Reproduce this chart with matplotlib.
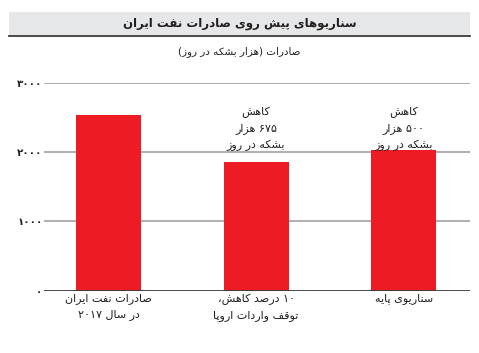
import matplotlib
matplotlib.use('Agg')
import matplotlib.pyplot as plt
from matplotlib.patches import Rectangle
from matplotlib.lines import Line2D

plt.rcParams['font.family'] = ['DejaVu Sans']

# data
categories = ["صادرات نفت ایران\nدر سال ۲۰۱۷", "۱۰ درصد کاهش،\nتوقف واردات اروپا", "سناریوی پایه"]
exports = [2535, 1860, 2035]
notes = ["", "کاهش\n۶۷۵ هزار\nبشکه در روز", "کاهش\n۵۰۰ هزار\nبشکه در روز"]
y_ticks = [0, 1000, 2000, 3000]
title = "سناریوهای پیش روی صادرات نفت ایران"
subtitle = "صادرات (هزار بشکه در روز)"

# presentation forms: (isolated, final) or (isolated, final, initial, medial)
FORMS = {
    'ا': (0xFE8D, 0xFE8E), 'آ': (0xFE81, 0xFE82),
    'د': (0xFEA9, 0xFEAA), 'ذ': (0xFEAB, 0xFEAC), 'ر': (0xFEAD, 0xFEAE),
    'ز': (0xFEAF, 0xFEB0), 'ژ': (0xFB8A, 0xFB8B), 'و': (0xFEED, 0xFEEE),
    'ب': (0xFE8F, 0xFE90, 0xFE91, 0xFE92), 'پ': (0xFB56, 0xFB57, 0xFB58, 0xFB59),
    'ت': (0xFE95, 0xFE96, 0xFE97, 0xFE98), 'ث': (0xFE99, 0xFE9A, 0xFE9B, 0xFE9C),
    'ج': (0xFE9D, 0xFE9E, 0xFE9F, 0xFEA0), 'چ': (0xFB7A, 0xFB7B, 0xFB7C, 0xFB7D),
    'ح': (0xFEA1, 0xFEA2, 0xFEA3, 0xFEA4), 'خ': (0xFEA5, 0xFEA6, 0xFEA7, 0xFEA8),
    'س': (0xFEB1, 0xFEB2, 0xFEB3, 0xFEB4), 'ش': (0xFEB5, 0xFEB6, 0xFEB7, 0xFEB8),
    'ص': (0xFEB9, 0xFEBA, 0xFEBB, 0xFEBC), 'ض': (0xFEBD, 0xFEBE, 0xFEBF, 0xFEC0),
    'ط': (0xFEC1, 0xFEC2, 0xFEC3, 0xFEC4), 'ظ': (0xFEC5, 0xFEC6, 0xFEC7, 0xFEC8),
    'ع': (0xFEC9, 0xFECA, 0xFECB, 0xFECC), 'غ': (0xFECD, 0xFECE, 0xFECF, 0xFED0),
    'ف': (0xFED1, 0xFED2, 0xFED3, 0xFED4), 'ق': (0xFED5, 0xFED6, 0xFED7, 0xFED8),
    'ک': (0xFB8E, 0xFB8F, 0xFB90, 0xFB91), 'گ': (0xFB92, 0xFB93, 0xFB94, 0xFB95),
    'ل': (0xFEDD, 0xFEDE, 0xFEDF, 0xFEE0), 'م': (0xFEE1, 0xFEE2, 0xFEE3, 0xFEE4),
    'ن': (0xFEE5, 0xFEE6, 0xFEE7, 0xFEE8), 'ه': (0xFEE9, 0xFEEA, 0xFEEB, 0xFEEC),
    'ی': (0xFBFC, 0xFBFD, 0xFBFE, 0xFBFF),
}
DIGITS = set('0123456789۰۱۲۳۴۵۶۷۸۹')
MIRROR = {'(': ')', ')': '('}


def shape(line):
    out = []
    n = len(line)
    for i, ch in enumerate(line):
        f = FORMS.get(ch)
        if f is None:
            out.append(ch)
            continue
        prev = line[i - 1] if i > 0 else ''
        nxt = line[i + 1] if i < n - 1 else ''
        join_prev = prev in FORMS and len(FORMS[prev]) == 4
        join_next = len(f) == 4 and nxt in FORMS
        if join_prev and join_next:
            code = f[3]
        elif join_prev:
            code = f[1]
        elif join_next:
            code = f[2]
        else:
            code = f[0]
        out.append(chr(code))
    return ''.join(out)


def rtl(text):
    lines = []
    for line in text.split('\n'):
        s = shape(line)[::-1]
        s = ''.join(MIRROR.get(c, c) for c in s)
        # keep digit runs left to right
        res, run = [], []
        for c in s:
            if c in DIGITS:
                run.append(c)
            else:
                res.extend(run[::-1])
                run = []
                res.append(c)
        res.extend(run[::-1])
        lines.append(''.join(res))
    return '\n'.join(lines)


def fa_num(v):
    return ''.join('۰۱۲۳۴۵۶۷۸۹'[int(d)] for d in str(int(v)))


RED = '#ED1C24'
TXT = '#231F20'

fig = plt.figure(figsize=(4.79, 3.53), dpi=100)
W, H = 479, 353

# title band
fig.patches.append(Rectangle((9 / W, 1 - 35 / H), 461 / W, 23 / H,
                             transform=fig.transFigure, facecolor='#E6E7E8',
                             edgecolor='none', zorder=0))
fig.lines.append(Line2D([9 / W, 470 / W], [1 - 35.5 / H, 1 - 35.5 / H],
                        transform=fig.transFigure, color='#3A3A3A', lw=1.3))
fig.text(0.5, 1 - 24 / H, rtl(title), ha='center', va='center',
         fontsize=8.5, fontweight='bold', color=TXT)
fig.text(0.5, 1 - 52 / H, rtl(subtitle), ha='center', va='center',
         fontsize=7.5, color=TXT)

ax = fig.add_axes([44 / W, 1 - 290.7 / H, 426 / W, 208 / H])
x = list(range(len(categories)))
ax.bar(x, exports, width=0.44, color=RED, zorder=3)
ax.set_xlim(-0.437, 2.45)
ax.set_ylim(0, 3000)

for v in y_ticks[1:]:
    ax.axhline(v, color='#A7A9AC', lw=1.3, zorder=1)
ax.axhline(0, color='#3A3A3A', lw=1.3, zorder=4)

ax.set_yticks(y_ticks)
ax.set_yticklabels([fa_num(v) for v in y_ticks], fontsize=7.5,
                   fontweight='bold', color=TXT)
ax.tick_params(axis='y', length=0, pad=1)
ax.set_xticks(x)
ax.set_xticklabels([rtl(c) for c in categories], fontsize=8, color=TXT,
                   linespacing=1.6)
ax.tick_params(axis='x', length=0, pad=2)
for s in ax.spines.values():
    s.set_visible(False)

# notes sit at the same height above both scenario bars
for xi, note in zip(x, notes):
    if note:
        ax.text(xi, 2660, rtl(note), ha='center', va='top',
                fontsize=8, color=TXT, linespacing=1.65, zorder=5)

fig.savefig('out.png', dpi=100)
